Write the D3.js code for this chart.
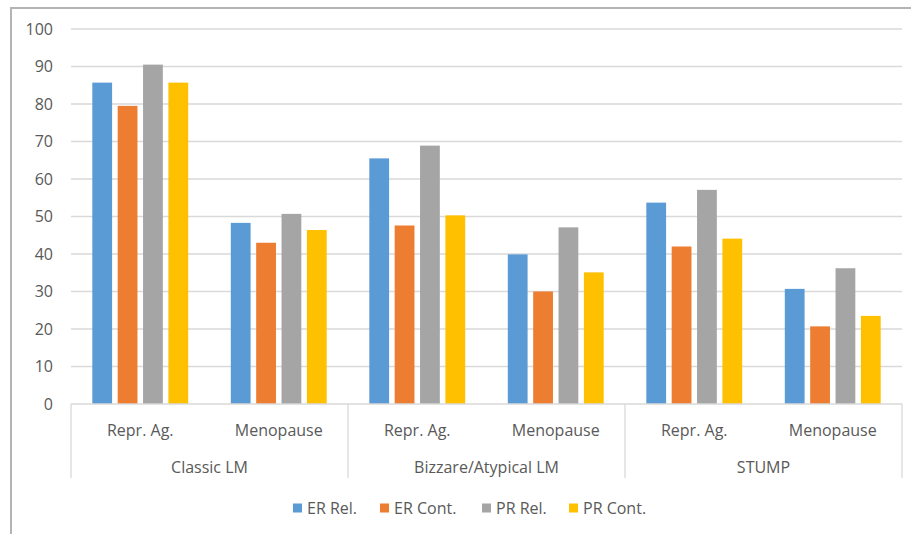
<!DOCTYPE html>
<html>
<head>
<meta charset="utf-8">
<script src="https://cdn.jsdelivr.net/npm/d3@7"></script>
<style>
  body { margin: 0; background: #fff; }
  text { font-family: "Open Sans", "Liberation Sans", sans-serif; fill: #595959; }
</style>
</head>
<body>
<svg id="chart" width="911" height="534"></svg>
<script>
const groups = ['Classic LM', 'Bizzare/Atypical LM', 'STUMP'];
const subgroups = ['Repr. Ag.', 'Menopause'];
const seriesNames = ['ER Rel.', 'ER Cont.', 'PR Rel.', 'PR Cont.'];
const colors = ['#5b9bd5', '#ed7d31', '#a5a5a5', '#ffc000'];
const yTicks = [0, 10, 20, 30, 40, 50, 60, 70, 80, 90, 100];

// one row per group/subgroup, values in series order
const erRel = [85.7, 48.3, 65.5, 39.9, 53.7, 30.7];
const erCont = [79.5, 43.0, 47.6, 30.0, 42.0, 20.7];
const prRel = [90.5, 50.7, 68.9, 47.1, 57.1, 36.2];
const prCont = [85.7, 46.4, 50.3, 35.1, 44.1, 23.5];
const series = [erRel, erCont, prRel, prCont];

const svg = d3.select('#chart');
const margin = { left: 71, right: 9, top: 29, bottom: 130 };
const width = 911 - margin.left - margin.right;
const height = 534 - margin.top - margin.bottom;
const fontSize = '16px';

// outer frame (top and left edges visible)
svg.append('path')
  .attr('d', 'M11,534 L11,8 L911,8')
  .attr('fill', 'none')
  .attr('stroke', '#b4b4b4')
  .attr('stroke-width', 2);

const g = svg.append('g').attr('transform', `translate(${margin.left},${margin.top})`);

const y = d3.scaleLinear().domain([0, 100]).range([height, 0]);
const xGroup = d3.scaleBand().domain(groups).range([0, width]);
const xSub = d3.scaleBand().domain(subgroups).range([0, xGroup.bandwidth()]);
const xSeries = d3.scaleBand().domain(seriesNames)
  .range([0, xSub.bandwidth()]).paddingInner(0.22).paddingOuter(0.84);

// gridlines
g.append('g')
  .selectAll('line')
  .data(yTicks.filter(d => d > 0))
  .join('line')
  .attr('x1', 0).attr('x2', width)
  .attr('y1', d => y(d)).attr('y2', d => y(d))
  .attr('stroke', '#d9d9d9').attr('stroke-width', 1.3);

// y axis labels
const yAxis = g.append('g').call(d3.axisLeft(y).tickValues(yTicks).tickSize(0).tickPadding(18));
yAxis.select('.domain').remove();
yAxis.selectAll('text').style('font-size', fontSize).attr('fill', '#595959');

// bars
const rows = [];
groups.forEach((grp, gi) => {
  subgroups.forEach((sub, si) => {
    seriesNames.forEach((name, k) => {
      rows.push({ grp, sub, name, k, value: series[k][gi * subgroups.length + si] });
    });
  });
});

g.append('g')
  .selectAll('rect')
  .data(rows)
  .join('rect')
  .attr('x', d => xGroup(d.grp) + xSub(d.sub) + xSeries(d.name))
  .attr('width', xSeries.bandwidth())
  .attr('y', d => y(d.value))
  .attr('height', d => height - y(d.value))
  .attr('fill', d => colors[d.k]);

// x axis baseline and separators
const axisG = g.append('g').attr('transform', `translate(0,${height})`);
axisG.append('line')
  .attr('x1', 0).attr('x2', width)
  .attr('stroke', '#d9d9d9').attr('stroke-width', 1.3);
axisG.selectAll('line.sep')
  .data(groups.map(d => xGroup(d)).concat([width]))
  .join('line')
  .attr('class', 'sep')
  .attr('x1', d => d).attr('x2', d => d)
  .attr('y1', 0).attr('y2', 74)
  .attr('stroke', '#d9d9d9').attr('stroke-width', 1.3);

groups.forEach(grp => {
  subgroups.forEach(sub => {
    axisG.append('text')
      .attr('x', xGroup(grp) + xSub(sub) + xSub.bandwidth() / 2)
      .attr('y', 32)
      .attr('text-anchor', 'middle')
      .style('font-size', fontSize)
      .text(sub);
  });
  axisG.append('text')
    .attr('x', xGroup(grp) + xGroup.bandwidth() / 2)
    .attr('y', 69)
    .attr('text-anchor', 'middle')
    .style('font-size', fontSize)
    .text(grp);
});

// legend
const legendX = [293, 380, 482, 569];
const legend = svg.append('g').attr('transform', 'translate(0,508)');
seriesNames.forEach((name, k) => {
  legend.append('rect')
    .attr('x', legendX[k]).attr('y', -4.5)
    .attr('width', 9).attr('height', 9)
    .attr('fill', colors[k]);
  legend.append('text')
    .attr('x', legendX[k] + 14).attr('y', 6)
    .style('font-size', fontSize)
    .text(name);
});
</script>
</body>
</html>
